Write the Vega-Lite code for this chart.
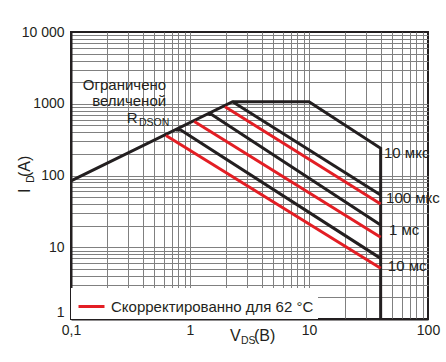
{
  "$schema": "https://vega.github.io/schema/vega-lite/v6.json",
  "width": 357,
  "height": 287,
  "autosize": {"type": "none"},
  "padding": {"left": 71, "top": 32, "right": 18, "bottom": 43},
  "background": "white",
  "config": {
    "view": {"stroke": "#231f20", "strokeWidth": 2},
    "font": "Liberation Sans",
    "text": {"font": "Liberation Sans", "color": "#231f20"},
    "legend": {"labelLimit": 400}
  },
  "datasets": {
    "lines": [
      {"curve": "10 мкс", "series": "25 °C", "pt": 1, "V": 0.1, "I": 84},
      {"curve": "10 мкс", "series": "25 °C", "pt": 2, "V": 2.28, "I": 1068},
      {"curve": "10 мкс", "series": "25 °C", "pt": 3, "V": 10, "I": 1068},
      {"curve": "10 мкс", "series": "25 °C", "pt": 4, "V": 40, "I": 239},
      {"curve": "10 мкс", "series": "25 °C", "pt": 5, "V": 40, "I": 1},
      {"curve": "100 мкс", "series": "25 °C", "pt": 1, "V": 2.28, "I": 1068},
      {"curve": "100 мкс", "series": "25 °C", "pt": 2, "V": 40, "I": 53.5},
      {"curve": "100 мкс 62", "series": "Скорректированно для 62 °C", "pt": 1, "V": 1.97, "I": 910},
      {"curve": "100 мкс 62", "series": "Скорректированно для 62 °C", "pt": 2, "V": 40, "I": 40},
      {"curve": "1 мс", "series": "25 °C", "pt": 1, "V": 1.43, "I": 710},
      {"curve": "1 мс", "series": "25 °C", "pt": 2, "V": 1.52, "I": 710},
      {"curve": "1 мс", "series": "25 °C", "pt": 3, "V": 40, "I": 20.4},
      {"curve": "1 мс 62", "series": "Скорректированно для 62 °C", "pt": 1, "V": 1.087, "I": 565},
      {"curve": "1 мс 62", "series": "Скорректированно для 62 °C", "pt": 2, "V": 40, "I": 13.8},
      {"curve": "10 мс", "series": "25 °C", "pt": 1, "V": 0.762, "I": 432},
      {"curve": "10 мс", "series": "25 °C", "pt": 2, "V": 0.836, "I": 432},
      {"curve": "10 мс", "series": "25 °C", "pt": 3, "V": 40, "I": 7.0},
      {"curve": "10 мс 62", "series": "Скорректированно для 62 °C", "pt": 1, "V": 0.628, "I": 360},
      {"curve": "10 мс 62", "series": "Скорректированно для 62 °C", "pt": 2, "V": 40, "I": 5.1}
    ],
    "clabels": [
      {"t": "10 мкс", "V": 42.7, "I": 206},
      {"t": "100 мкс", "V": 44.4, "I": 49.1},
      {"t": "1 мс", "V": 47, "I": 17.4},
      {"t": "10 мс", "V": 46, "I": 5.48}
    ],
    "notes": [
      {"t": "Ограничено", "V": 0.63, "I": 1797},
      {"t": "величеной", "V": 0.63, "I": 1075},
      {"t": "R", "V": 0.362, "I": 643}
    ],
    "notesSub": [
      {"t": "DSON", "V": 0.372, "I": 535}
    ],
    "xtitle": [
      {"t": "V", "V": 2.17, "I": 0.58},
      {"t": "(B)", "V": 3.45, "I": 0.58}
    ],
    "xtitleSub": [
      {"t": "DS", "V": 2.68, "I": 0.4935}
    ],
    "ytitle": [
      {"t": "I", "V": 0.04105, "I": 57},
      {"t": "(A)", "V": 0.04105, "I": 95.3}
    ],
    "ytitleSub": [
      {"t": "D", "V": 0.0457, "I": 79.4}
    ]
  },
  "encoding": {
    "x": {
      "field": "V",
      "type": "quantitative",
      "scale": {"type": "log", "domain": [0.1, 100], "nice": false},
      "axis": {
        "title": null,
        "values": [0.1, 0.2, 0.3, 0.4, 0.5, 0.6, 0.7, 0.8, 0.9, 1, 2, 3, 4, 5, 6, 7, 8, 9, 10, 20, 30, 40, 50, 60, 70, 80, 90, 100],
        "labelExpr": "datum.value == 0.1 ? '0,1' : datum.value == 1 ? '1' : datum.value == 10 ? '10' : datum.value == 100 ? '100' : ''",
        "grid": true,
        "gridColor": "#808080",
        "gridWidth": 1,
        "gridOpacity": {"condition": {"test": "datum.value == 100 || datum.value == 0.1", "value": 0}, "value": 1},
        "ticks": false,
        "domainColor": "#231f20",
        "domainWidth": 2,
        "labelFontSize": 14,
        "labelColor": "#231f20",
        "labelFont": "Liberation Sans",
        "labelPadding": 4,
        "labelFlush": false,
        "labelOverlap": false
      }
    },
    "y": {
      "field": "I",
      "type": "quantitative",
      "scale": {"type": "log", "domain": [1, 10000], "nice": false},
      "axis": {
        "title": null,
        "values": [1, 2, 3, 4, 5, 6, 7, 8, 9, 10, 20, 30, 40, 50, 60, 70, 80, 90, 100, 200, 300, 400, 500, 600, 700, 800, 900, 1000, 2000, 3000, 4000, 5000, 6000, 7000, 8000, 9000, 10000],
        "labelExpr": "datum.value == 10000 ? '10 000' : datum.value == 1000 ? '1000' : datum.value == 100 ? '100' : datum.value == 10 ? '10' : datum.value == 1 ? '1' : ''",
        "labelBaseline": {"condition": {"test": "datum.value == 1", "value": "bottom"}, "value": "middle"},
        "grid": true,
        "gridColor": "#808080",
        "gridWidth": 1,
        "gridOpacity": {"condition": {"test": "datum.value == 10000 || datum.value == 1", "value": 0}, "value": 1},
        "ticks": false,
        "domainColor": "#231f20",
        "domainWidth": 2,
        "labelFontSize": 14,
        "labelColor": "#231f20",
        "labelFont": "Liberation Sans",
        "labelPadding": 7,
        "labelFlush": false,
        "labelOverlap": false
      }
    }
  },
  "layer": [
    {
      "data": {"values": [{}]},
      "mark": {"type": "rule", "color": "#231f20", "strokeWidth": 2, "clip": false},
      "encoding": {
        "x": {"datum": 0.02844, "type": "quantitative"},
        "y": {"datum": 23036, "type": "quantitative"},
        "y2": {"datum": 0.2}
      }
    },
    {
      "data": {"values": [{}]},
      "mark": {"type": "rule", "color": "#231f20", "strokeWidth": 2, "clip": false},
      "encoding": {
        "x": {"datum": 0.02844, "type": "quantitative"},
        "x2": {"datum": 500},
        "y": {"datum": 23036, "type": "quantitative"}
      }
    },
    {
      "data": {"name": "lines"},
      "mark": {"type": "line", "strokeWidth": 3, "strokeJoin": "miter"},
      "encoding": {
        "color": {
          "field": "series",
          "type": "nominal",
          "scale": {"domain": ["25 °C", "Скорректированно для 62 °C"], "range": ["#231f20", "#e31e24"]},
          "legend": {
            "values": ["Скорректированно для 62 °C"],
            "title": null,
            "orient": "bottom-left",
            "offset": 0,
            "padding": 4,
            "fillColor": "white",
            "symbolType": "stroke",
            "symbolSize": 676,
            "symbolStrokeWidth": 3,
            "symbolOffset": 2,
            "labelFontSize": 15,
            "labelFont": "Liberation Sans",
            "labelColor": "#231f20",
            "labelOffset": 5
          }
        },
        "detail": {"field": "curve"},
        "order": {"field": "pt", "type": "quantitative"}
      }
    },
    {
      "data": {"name": "clabels"},
      "mark": {"type": "text", "align": "left", "baseline": "middle", "fontSize": 15},
      "encoding": {"text": {"field": "t"}}
    },
    {
      "data": {"name": "notes"},
      "mark": {"type": "text", "align": "right", "baseline": "middle", "fontSize": 15},
      "encoding": {"text": {"field": "t"}}
    },
    {
      "data": {"name": "notesSub"},
      "mark": {"type": "text", "align": "left", "baseline": "middle", "fontSize": 10.5},
      "encoding": {"text": {"field": "t"}}
    },
    {
      "data": {"name": "xtitle"},
      "mark": {"type": "text", "align": "left", "baseline": "middle", "fontSize": 16, "clip": false},
      "encoding": {"text": {"field": "t"}}
    },
    {
      "data": {"name": "xtitleSub"},
      "mark": {"type": "text", "align": "left", "baseline": "middle", "fontSize": 10.5, "clip": false},
      "encoding": {"text": {"field": "t"}}
    },
    {
      "data": {"name": "ytitle"},
      "mark": {"type": "text", "align": "left", "baseline": "middle", "fontSize": 16, "angle": 270, "clip": false},
      "encoding": {"text": {"field": "t"}}
    },
    {
      "data": {"name": "ytitleSub"},
      "mark": {"type": "text", "align": "left", "baseline": "middle", "fontSize": 10.5, "angle": 270, "clip": false},
      "encoding": {"text": {"field": "t"}}
    }
  ]
}
